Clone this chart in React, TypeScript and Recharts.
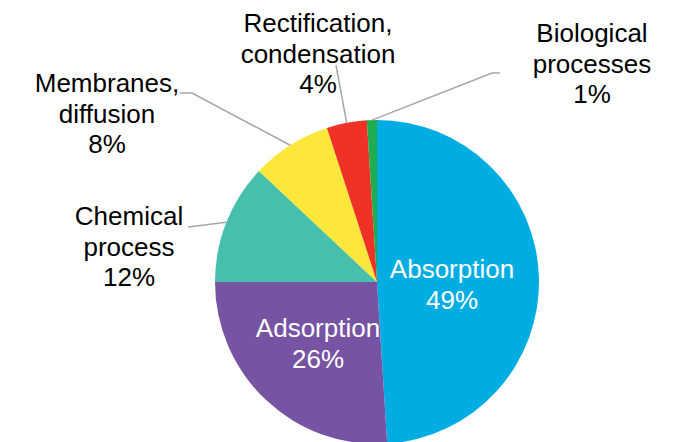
import { Cell, Pie, PieChart } from 'recharts';

const categories = ['Absorption', 'Adsorption', 'Chemical process', 'Membranes, diffusion', 'Rectification, condensation', 'Biological processes'];
const shares = [49, 26, 12, 8, 4, 1];
const labelLines = [['Absorption'], ['Adsorption'], ['Chemical', 'process'], ['Membranes,', 'diffusion'], ['Rectification,', 'condensation'], ['Biological', 'processes']];
const colors = ['#00ade3', '#7754a3', '#46bfab', '#fde73b', '#ee3225', '#1fad4f'];

const data = categories.map((name, i) => ({ name, value: shares[i], lines: labelLines[i] }));

// label text anchor (centre x, first baseline) and leader bends, relative to the pie centre
const labelPos: { tx: number; ty: number; inside?: boolean; path?: [number, number][] }[] = [
  { tx: 75, ty: -4, inside: true },
  { tx: -59, ty: 55, inside: true },
  { tx: -248, ty: -57, path: [[-189, -55]] },
  { tx: -270, ty: -190, path: [[-185, -189], [-197, -189]] },
  { tx: -59, ty: -250, path: [[-41, -217]] },
  { tx: 215, ty: -240, path: [[115, -209], [123, -209]] },
];

const RAD = Math.PI / 180;
const font = { fontFamily: '"Liberation Sans", Arial, sans-serif', fontSize: 26 };

function renderLabel(props: any) {
  const { cx, cy, midAngle, outerRadius, index } = props;
  const lines: string[] = [...data[index].lines, `${data[index].value}%`];
  const o = labelPos[index];
  const text = lines.map((t, k) => (
    <text key={k} x={cx + o.tx} y={cy + o.ty + k * 30.5} textAnchor="middle" fill={o.inside ? '#fff' : '#000'} {...font}>{t}</text>
  ));
  if (o.inside) return <g>{text}</g>;
  const sx = cx + outerRadius * Math.cos(-midAngle * RAD);
  const sy = cy + outerRadius * Math.sin(-midAngle * RAD);
  const pts = [[sx, sy], ...(o.path ?? []).map(([dx, dy]) => [cx + dx, cy + dy])];
  return (
    <g>
      <polyline points={pts.map((p) => p.join(',')).join(' ')} fill="none" stroke="#a6a6a6" strokeWidth={1.5} />
      {text}
    </g>
  );
}

export default function App() {
  return (
    <div style={{ position: 'absolute', left: 0, top: 0, width: 673, height: 442, background: '#fff', overflow: 'hidden' }}>
      <PieChart width={673} height={442} margin={{ top: 0, right: 0, bottom: 0, left: 0 }}>
        <Pie
          data={data}
          dataKey="value"
          nameKey="name"
          cx={377}
          cy={282}
          outerRadius={162}
          startAngle={90}
          endAngle={-270}
          stroke="none"
          label={renderLabel}
          labelLine={false}
          isAnimationActive={false}
        >
          {data.map((_, i) => <Cell key={i} fill={colors[i]} />)}
        </Pie>
      </PieChart>
    </div>
  );
}
